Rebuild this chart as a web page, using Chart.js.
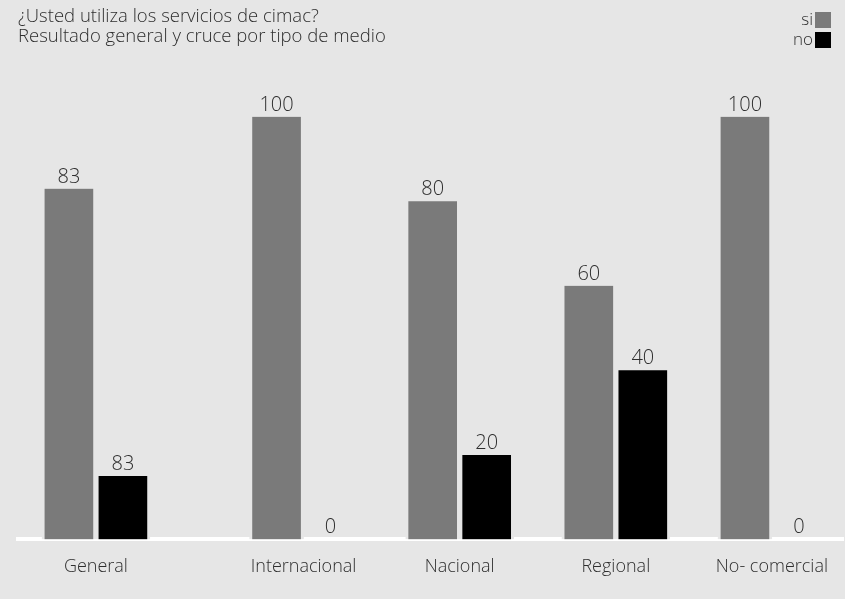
<!DOCTYPE html>
<html>
<head>
<meta charset="utf-8">
<script src="https://cdn.jsdelivr.net/npm/chart.js@4.4.0/dist/chart.umd.min.js"></script>
<style>
  html, body { margin: 0; padding: 0; background: #e6e6e6; }
  #wrap { width: 845px; height: 599px; }
</style>
</head>
<body>
<div id="wrap"><canvas id="chartCimac"></canvas></div>
<script>
var categorias = ['General', 'Internacional', 'Nacional', 'Regional', 'No- comercial'];
var valoresSi = [83, 100, 80, 60, 100];
var valoresNo = [15, 0, 20, 40, 0];
// textos impresos sobre las barras (el original pone 83 sobre la barra "no" de General)
var etiquetasSi = ['83', '100', '80', '60', '100'];
var etiquetasNo = ['83', '0', '20', '40', '0'];
// General va algo separado del resto de los medios
var posiciones = [0, 1.33, 2.33, 3.33, 4.33];

var fondo = '#e6e6e6';
var gris = '#7a7a7a';
var texto = '#2e2e2e';

var fondoPlugin = {
    id: 'fondo',
    beforeDraw: function(chart) {
        var ctx = chart.ctx;
        ctx.save();
        ctx.fillStyle = fondo;
        ctx.fillRect(0, 0, chart.width, chart.height);
        ctx.restore();
    }
};

var etiquetasPlugin = {
    id: 'etiquetas',
    afterDatasetsDraw: function(chart) {
        var ctx = chart.ctx;
        ctx.save();
        ctx.font = '300 20px "Open Sans"';
        ctx.fillStyle = texto;
        ctx.textAlign = 'center';
        ctx.textBaseline = 'alphabetic';
        [etiquetasSi, etiquetasNo].forEach(function(etiquetas, d) {
            chart.getDatasetMeta(d).data.forEach(function(bar, i) {
                ctx.fillText(etiquetas[i], bar.x, bar.y - 6);
            });
        });
        ctx.restore();
    }
};

// leyenda arriba a la derecha: texto y cuadro a su derecha
var leyendaPlugin = {
    id: 'leyenda',
    afterDraw: function(chart) {
        var ctx = chart.ctx;
        ctx.save();
        ctx.font = '300 17px "Open Sans"';
        ctx.textAlign = 'right';
        ctx.textBaseline = 'middle';
        chart.data.datasets.forEach(function(ds, i) {
            var y = 20 + i * 20;
            ctx.fillStyle = texto;
            ctx.fillText(ds.label, 813, y);
            ctx.fillStyle = ds.backgroundColor;
            ctx.fillRect(815, y - 8, 16, 16);
        });
        ctx.restore();
    }
};

var ctxCimac = document.getElementById('chartCimac').getContext('2d');
var chartCimac = new Chart(ctxCimac, {
    type: 'bar',
    data: {
        datasets: [{
            label: 'si',
            backgroundColor: gris,
            borderColor: fondo,
            borderWidth: { left: 3, right: 3, top: 0, bottom: 0 },
            barThickness: 54,
            data: valoresSi.map(function(v, i) { return { x: posiciones[i], y: v }; })
        }, {
            label: 'no',
            backgroundColor: '#000000',
            borderColor: fondo,
            borderWidth: { left: 3, right: 3, top: 0, bottom: 0 },
            barThickness: 54,
            data: valoresNo.map(function(v, i) { return { x: posiciones[i], y: v }; })
        }]
    },
    options: {
        responsive: true,
        maintainAspectRatio: false,
        animation: false,
        layout: { padding: { left: 18, right: 0, top: 0, bottom: 4 } },
        plugins: {
            legend: { display: false },
            tooltip: { enabled: false },
            title: {
                display: true,
                text: ['¿Usted utiliza los servicios de cimac?', 'Resultado general y cruce por tipo de medio'],
                align: 'start',
                color: texto,
                font: { family: 'Open Sans', size: 18.5, weight: '300', lineHeight: 1.12 },
                padding: { top: 6, bottom: 6 }
            }
        },
        scales: {
            x: {
                type: 'linear',
                offset: false,
                min: -0.499,
                max: 4.79,
                grid: { display: false, drawTicks: false },
                border: { display: true, color: '#ffffff', width: 4 },
                afterBuildTicks: function(scale) {
                    scale.ticks = posiciones.map(function(p) { return { value: p }; });
                },
                ticks: {
                    autoSkip: false,
                    maxRotation: 0,
                    padding: 17,
                    color: texto,
                    font: { family: 'Open Sans', size: 18, weight: '300' },
                    callback: function(value, index) { return categorias[index]; }
                }
            },
            y: {
                display: false,
                min: 0,
                max: 115
            }
        }
    },
    plugins: [fondoPlugin, etiquetasPlugin, leyendaPlugin]
});
</script>
</body>
</html>
